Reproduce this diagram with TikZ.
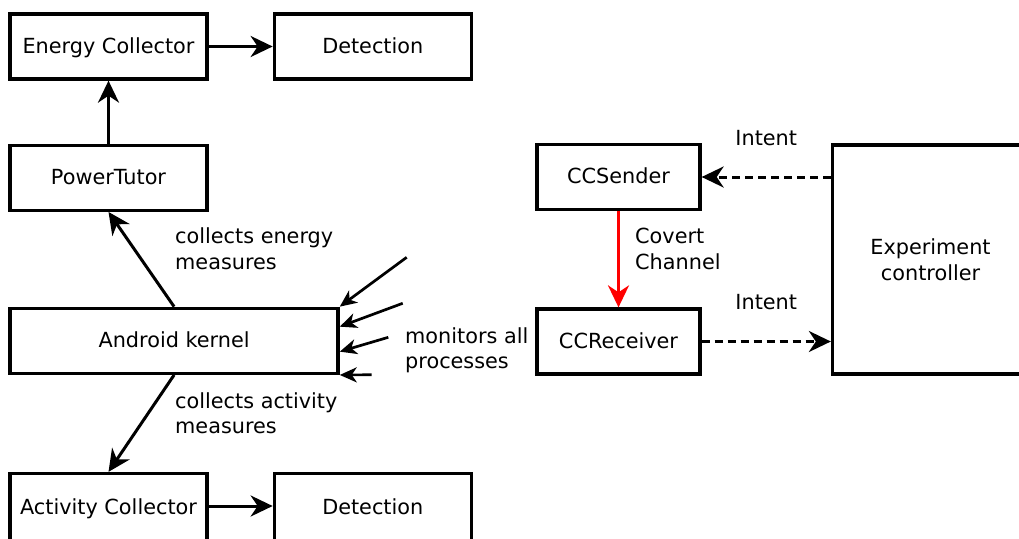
\documentclass[tikz,border=0pt]{standalone}
\usepackage{fontspec}
\setmainfont{DejaVu Sans}
\usetikzlibrary{positioning,arrows.meta}

\begin{document}
\begin{tikzpicture}[
    x=1pt, y=-1pt,
    every node/.style={font=\fontsize{20.8}{25.8}\selectfont},
    box/.style={draw, line width=3.3pt, minimum width=197pt, minimum height=65pt, inner sep=0pt, align=center, text height=16pt, text depth=2.5pt},
    lbl/.style={inner sep=0pt, align=left, anchor=base west},
    flow/.style={line width=3pt, -{Stealth[length=22pt, width=21pt, inset=7pt]}},
    probe/.style={line width=2.7pt, -{Stealth[length=17pt, width=15pt, inset=5pt]}},
    intent/.style={flow, dash pattern=on 8pt off 5pt}
]
\clip (0,0) rectangle (1019,538);

% Nodes
\node[box] (energy) at (108.5,46.5) {Energy Collector};
\node[box] (detect1) [right=64pt of energy] {Detection};
\node[box] (ptutor) [below=63pt of energy] {PowerTutor};
\node[box, minimum width=328pt] (kernel) at (174.1,340.8) {Android kernel};
\node[box, minimum height=68pt] (activity) at (108.5,507.5) {Activity Collector};
\node[box, minimum height=68pt] (detect2) [right=64pt of activity] {Detection};
\node[box, minimum width=163pt] (ccs) at (618.5,177) {CCSender};
\node[box, minimum width=163pt] (ccr) at (618.5,341.5) {CCReceiver};
\node[box, text height=, text depth=, minimum width=196pt, minimum height=229pt] (exp) at (930.5,259.6) {Experiment\\controller};

% Labels
\node[lbl] (elabel) at (175,269.3) {collects energy\\measures};
\node[lbl] (alabel) at (175,433.8) {collects activity\\measures};
\node[lbl] (mlabel) at (405,368.8) {monitors all\\processes};
\node[lbl] (clabel) at (635,269.3) {Covert\\Channel};

% Arrows
\draw[flow] (energy) -- (detect1);
\draw[flow] (ptutor) -- (energy);
\draw[flow] (kernel.north) -- (ptutor.south);
\draw[flow] (kernel.south) -- (activity.north);
\draw[flow] (activity.east |- 0,506) -- (detect2.west |- 0,506);
\draw[flow, red] (ccs) -- (ccr);

\draw[intent] (exp.west |- ccs.east) -- node[midway, anchor=base, inner sep=0pt, yshift=32pt] (intent1) {Intent} (ccs.east);
\draw[intent] (ccr.east) -- node[midway, anchor=base, inner sep=0pt, yshift=32pt] (intent2) {Intent} (exp.west |- ccr.east);

% Processes watched by the kernel
\coordinate (m1) at (406.7,257.3);
\coordinate (m2) at (402.7,303.3);
\coordinate (m3) at (388.3,337.3);
\coordinate (m4) at (371.7,374.8);
\draw[probe] (m1) -- (kernel.north east);
\draw[probe] (m2) -- ([yshift=-20pt]kernel.north east);
\draw[probe] (m3) -- ([yshift=-45pt]kernel.north east);
\draw[probe] (m4) -- (kernel.south east);

\end{tikzpicture}
\end{document}
